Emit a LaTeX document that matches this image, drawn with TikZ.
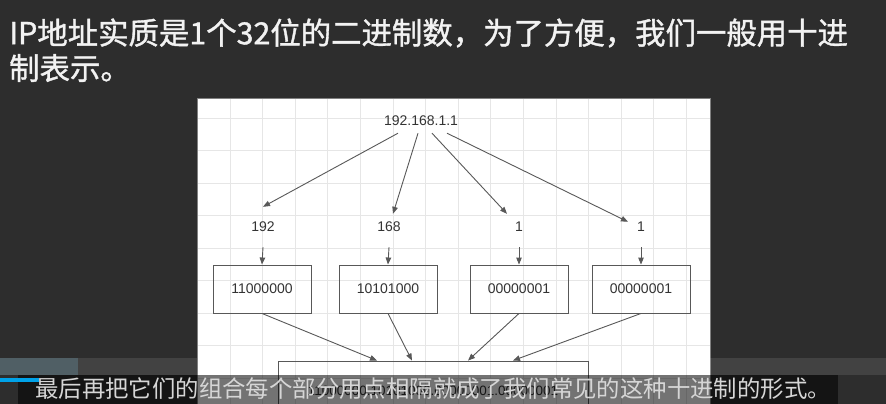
\documentclass[tikz,border=0pt]{standalone}
\usepackage{fontspec}
\setmainfont{Liberation Sans}
\newfontfamily\cjk{Noto Sans CJK SC}
\newfontfamily\cjkchalk[FakeBold=1.2]{Noto Sans CJK SC}
\usetikzlibrary{arrows.meta}
\definecolor{board}{RGB}{45,45,45}
\definecolor{gridline}{RGB}{230,230,230}
\definecolor{edge}{RGB}{88,88,88}
\definecolor{chalk}{RGB}{242,242,242}
\definecolor{subtext}{RGB}{214,214,214}
\definecolor{barblue}{RGB}{0,162,232}

\begin{document}
\begin{tikzpicture}[x=1pt, y=-1pt,
    box/.style={draw=edge, line width=0.9pt, minimum width=98pt, minimum height=48pt,
        inner sep=0pt, font=\fontsize{14}{16}\selectfont, text=black!80},
    num/.style={inner sep=0pt, minimum height=40pt, font=\fontsize{14}{16}\selectfont, text=black!80},
    link/.style={->, >={Triangle[length=7pt,width=5.5pt]}, draw=edge, line width=0.9pt}]
    % board and white sheet
    \fill[board] (0,0) rectangle (886,404);
    \useasboundingbox (0,0) rectangle (886,404);
    \fill[white] (197,98) rectangle (710,404);
    \begin{scope}
        \clip (197,98) rectangle (710,404);
        \foreach \i in {0,...,14}
            \draw[gridline, line width=0.8pt] ({230+32.6*\i},98) -- ++(0,306);
        \foreach \j in {0,...,8}
            \draw[gridline, line width=0.8pt] (197,{118+32.5*\j}) -- ++(513,0);
    \end{scope}
    \draw[black!50, line width=0.8pt] (197,404) -- (197,98) -- (710,98) -- (710,404);

    % title
    \node[anchor=west, inner sep=0pt, text=chalk, font=\cjkchalk\fontsize{30.4}{36}\selectfont]
        (title1) at (9,33) {IP地址实质是1个32位的二进制数，为了方便，我们一般用十进};
    \node[anchor=west, inner sep=0pt, text=chalk, font=\cjkchalk\fontsize{30.4}{36}\selectfont]
        (title2) at (9,68) {制表示。};

    % address and its four parts
    \node[num, minimum height=24pt] (ip) at (421,121) {192.168.1.1};
    \node[num] (d1) at (263,227) {192};
    \node[num] (d2) at (389,227) {168};
    \node[num] (d3) at (519,227) {1};
    \node[num] (d4) at (641,227) {1};
    \node[box] (b1) at (262,289) {11000000};
    \node[box] (b2) at (388,289) {10101000};
    \node[box] (b3) at (519,289) {00000001};
    \node[box] (b4) at (641,289) {00000001};
    \node[box, minimum width=310pt, minimum height=60pt, font=\fontsize{13.5}{16}\selectfont]
        (all) at (433,391) {11000000.10101000.00000001.00000001};

    % arrows
    \draw[link] ([xshift=-23pt]ip.south) -- (d1.north);
    \draw[link] ([xshift=-3pt]ip.south) -- ([xshift=4pt,yshift=-7pt]d2.north);
    \draw[link] ([xshift=11pt]ip.south) -- ([xshift=-12pt,yshift=-7pt]d3.north);
    \draw[link] ([xshift=26pt]ip.south) -- ([xshift=-13pt,yshift=-15pt]d4.north);
    \draw[link] (d1.south) -- (b1.north);
    \draw[link] (d2.south) -- (b2.north);
    \draw[link] (d3.south) -- (b3.north);
    \draw[link] (d4.south) -- (b4.north);
    \draw[link] (b1.south) -- ([xshift=-56pt]all.north);
    \draw[link] (b2.south) -- ([xshift=-21pt]all.north);
    \draw[link] (b3.south) -- ([xshift=35pt]all.north);
    \draw[link] (b4.south) -- ([xshift=80pt]all.north);

    % player overlay and subtitle
    \fill[white, opacity=0.1] (0,358) rectangle (197,375);
    \fill[white, opacity=0.1] (710,358) rectangle (886,375);
    \fill[cyan!40!gray, opacity=0.3] (0,358) rectangle (78,375);
    \fill[black, opacity=0.55] (18,375) rectangle (838,404);
    \fill[barblue] (0,378) rectangle (39,382);
    \node[inner sep=0pt, text=subtext, font=\cjk\fontsize{23.4}{28}\selectfont]
        (caption) at (433,389) {最后再把它们的组合每个部分用点相隔就成了我们常见的这种十进制的形式。};
\end{tikzpicture}
\end{document}
